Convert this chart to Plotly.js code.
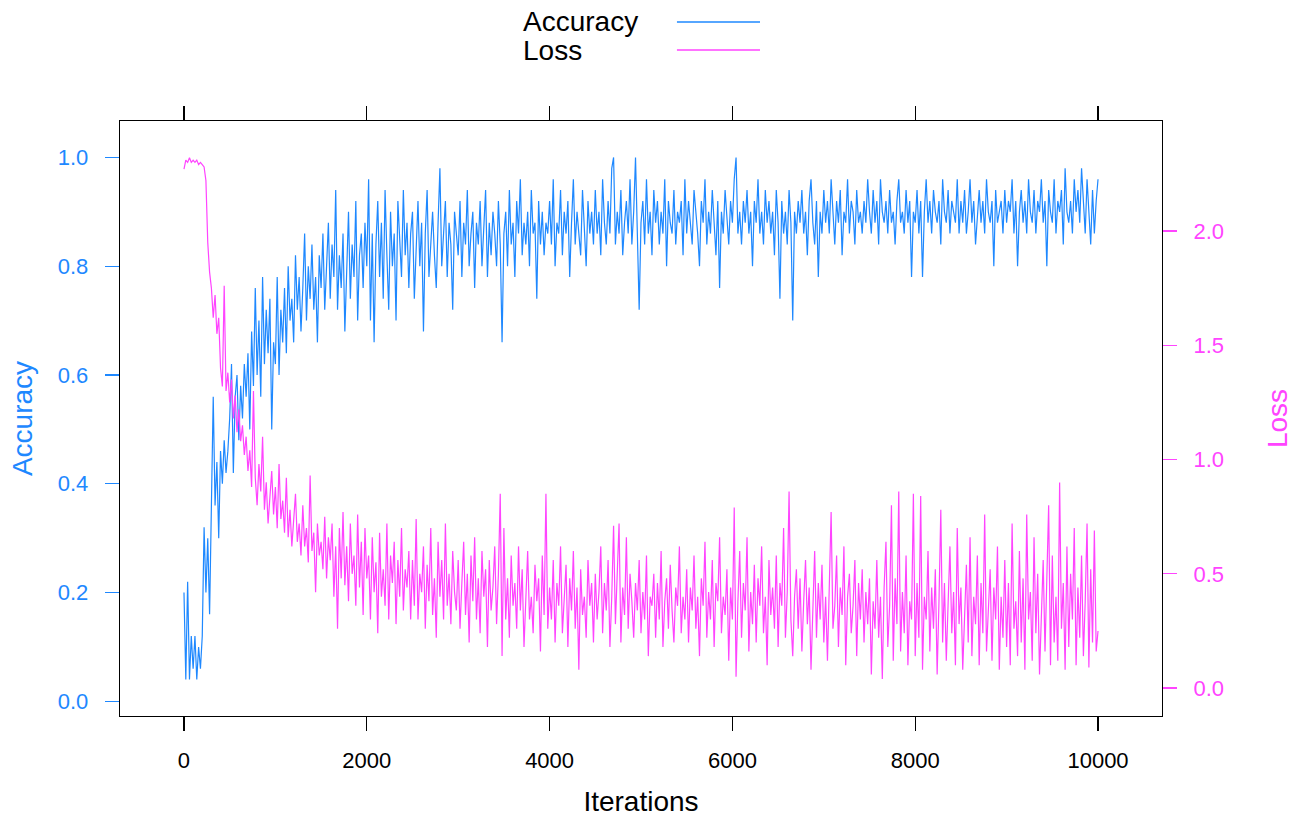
<!DOCTYPE html>
<html>
<head>
<meta charset="utf-8">
<script src="https://cdn.plot.ly/plotly-3.0.1.min.js"></script>
<style>html,body{margin:0;padding:0;background:#fff;}#chart{width:1308px;height:821px;}</style>
</head>
<body>
<div id="chart"></div>
<script>
const iterStep = 20;
const accuracy = [
0.20,0.04,0.22,0.04,0.12,0.06,0.12,0.04,0.10,0.06,0.12,0.32,0.20,0.30,0.16,0.34,0.56,0.36,0.44,0.30,0.46,0.40,0.48,0.42,0.46,
0.52,0.62,0.42,0.56,0.60,0.48,0.58,0.52,0.62,0.56,0.64,0.50,0.68,0.58,0.76,0.60,0.70,0.56,0.78,0.62,0.72,0.64,0.74,0.50,0.66,
0.62,0.78,0.60,0.72,0.66,0.76,0.64,0.80,0.70,0.74,0.66,0.82,0.72,0.78,0.68,0.76,0.86,0.70,0.80,0.74,0.84,0.72,0.78,0.66,0.82,
0.76,0.86,0.72,0.80,0.88,0.74,0.84,0.78,0.94,0.72,0.82,0.76,0.86,0.68,0.80,0.90,0.74,0.84,0.78,0.92,0.70,0.82,0.86,0.76,0.88,
0.80,0.96,0.70,0.86,0.66,0.84,0.92,0.78,0.88,0.74,0.94,0.82,0.72,0.90,0.80,0.86,0.70,0.92,0.84,0.78,0.94,0.82,0.88,0.76,0.86,
0.90,0.74,0.84,0.92,0.80,0.88,0.68,0.86,0.94,0.78,0.84,0.90,0.82,0.76,0.88,0.98,0.80,0.86,0.92,0.78,0.88,0.84,0.72,0.90,0.86,
0.82,0.92,0.78,0.88,0.84,0.94,0.80,0.86,0.90,0.76,0.88,0.84,0.92,0.80,0.86,0.94,0.78,0.88,0.82,0.90,0.86,0.80,0.92,0.84,0.66,
0.86,0.90,0.80,0.94,0.84,0.88,0.78,0.92,0.86,0.96,0.82,0.88,0.84,0.90,0.80,0.94,0.86,0.88,0.74,0.92,0.84,0.90,0.82,0.88,0.86,
0.92,0.84,0.96,0.80,0.88,0.86,0.94,0.82,0.90,0.86,0.92,0.78,0.88,0.96,0.84,0.90,0.86,0.82,0.94,0.88,0.80,0.92,0.86,0.90,0.84,
0.94,0.86,0.90,0.82,0.96,0.88,0.84,0.92,0.86,0.98,1.00,0.84,0.90,0.86,0.94,0.82,0.88,0.92,0.86,0.96,0.84,0.90,1.00,0.86,0.72,
0.88,0.92,0.84,0.96,0.86,0.90,0.82,0.94,0.88,0.92,0.84,0.90,0.86,0.96,0.80,0.92,0.88,0.86,0.94,0.84,0.90,0.88,0.92,0.82,0.96,
0.86,0.92,0.88,0.84,0.94,0.90,0.86,0.80,0.92,0.88,0.96,0.84,0.90,0.86,0.94,0.88,0.82,0.92,0.76,0.90,0.86,0.94,0.88,0.84,0.92,
0.88,0.96,1.00,0.86,0.90,0.84,0.92,0.88,0.94,0.86,0.90,0.80,0.92,0.88,0.96,0.86,0.90,0.84,0.94,0.88,0.92,0.86,0.90,0.82,0.94,
0.88,0.74,0.92,0.86,0.90,0.84,0.94,0.88,0.70,0.90,0.86,0.92,0.88,0.94,0.86,0.90,0.82,0.92,0.96,0.88,0.84,0.92,0.78,0.90,0.86,
0.94,0.88,0.92,0.86,0.96,0.90,0.84,0.92,0.88,0.94,0.82,0.90,0.88,0.96,0.86,0.92,0.90,0.84,0.94,0.88,0.90,0.86,0.92,0.88,0.96,
0.90,0.86,0.94,0.88,0.92,0.84,0.96,0.90,0.88,0.92,0.86,0.94,0.88,0.90,0.84,0.92,0.96,0.88,0.90,0.86,0.94,0.88,0.92,0.78,0.90,
0.88,0.94,0.86,0.92,0.78,0.90,0.96,0.88,0.92,0.86,0.94,0.90,0.88,0.92,0.84,0.96,0.90,0.88,0.94,0.86,0.92,0.90,0.88,0.96,0.86,
0.92,0.88,0.94,0.86,0.90,0.96,0.88,0.92,0.84,0.90,0.94,0.88,0.92,0.86,0.96,0.90,0.88,0.92,0.80,0.94,0.88,0.90,0.92,0.86,0.94,
0.88,0.92,0.90,0.96,0.86,0.92,0.80,0.90,0.94,0.88,0.92,0.86,0.96,0.90,0.88,0.94,0.86,0.92,0.90,0.96,0.88,0.92,0.80,0.94,0.90,
0.88,0.96,0.86,0.92,0.90,0.94,0.84,0.98,0.90,0.88,0.92,0.86,0.96,0.90,0.94,0.88,0.98,0.92,0.86,0.96,0.90,0.84,0.94,0.86,0.92,
0.96
];
const loss = [
2.27,2.31,2.30,2.32,2.30,2.31,2.30,2.31,2.29,2.30,2.29,2.28,2.22,1.95,1.82,1.75,1.62,1.72,1.55,1.62,1.40,1.32,1.76,1.30,1.38,
1.25,1.35,1.18,1.28,1.12,1.22,1.08,1.15,1.02,1.10,0.95,1.04,0.88,1.30,0.92,0.80,0.98,0.86,1.10,0.78,0.90,0.72,0.84,0.95,0.76,
0.88,0.70,0.98,0.74,0.82,0.68,0.92,0.66,0.78,0.62,0.74,0.85,0.64,0.72,0.58,0.80,0.62,0.70,0.55,0.93,0.60,0.68,0.42,0.72,0.58,
0.64,0.52,0.75,0.48,0.66,0.56,0.72,0.40,0.62,0.26,0.70,0.48,0.77,0.45,0.62,0.38,0.72,0.50,0.58,0.36,0.76,0.44,0.64,0.32,0.70,
0.48,0.58,0.30,0.66,0.42,0.55,0.24,0.68,0.40,0.52,0.36,0.72,0.30,0.58,0.46,0.64,0.28,0.56,0.40,0.70,0.34,0.52,0.44,0.60,0.30,
0.56,0.36,0.74,0.30,0.50,0.42,0.62,0.26,0.54,0.38,0.70,0.32,0.48,0.22,0.64,0.40,0.56,0.30,0.72,0.36,0.50,0.28,0.60,0.42,0.34,
0.56,0.26,0.46,0.64,0.32,0.50,0.20,0.58,0.38,0.66,0.30,0.48,0.24,0.60,0.40,0.52,0.18,0.56,0.34,0.44,0.62,0.28,0.50,0.85,0.14,
0.70,0.30,0.48,0.22,0.58,0.36,0.46,0.26,0.62,0.34,0.52,0.18,0.44,0.60,0.30,0.40,0.24,0.54,0.38,0.48,0.16,0.58,0.32,0.85,0.26,
0.44,0.30,0.56,0.20,0.46,0.36,0.62,0.24,0.42,0.54,0.18,0.48,0.34,0.60,0.26,0.44,0.08,0.52,0.32,0.40,0.22,0.56,0.36,0.46,0.20,
0.50,0.30,0.42,0.62,0.24,0.46,0.34,0.56,0.18,0.40,0.71,0.28,0.48,0.72,0.20,0.44,0.32,0.66,0.26,0.50,0.38,0.22,0.46,0.34,0.56,
0.24,0.42,0.30,0.58,0.14,0.40,0.36,0.50,0.22,0.46,0.30,0.60,0.18,0.38,0.48,0.26,0.54,0.34,0.20,0.44,0.36,0.62,0.24,0.40,0.30,
0.52,0.20,0.44,0.34,0.58,0.26,0.40,0.14,0.48,0.36,0.64,0.22,0.42,0.30,0.56,0.18,0.46,0.38,0.66,0.24,0.40,0.32,0.52,0.12,0.44,
0.30,0.79,0.05,0.38,0.60,0.22,0.46,0.34,0.66,0.16,0.42,0.28,0.54,0.20,0.48,0.36,0.62,0.24,0.40,0.10,0.56,0.32,0.44,0.26,0.58,
0.18,0.46,0.36,0.70,0.22,0.42,0.86,0.30,0.14,0.40,0.52,0.26,0.48,0.16,0.38,0.56,0.28,0.44,0.08,0.34,0.60,0.22,0.46,0.30,0.54,
0.20,0.40,0.12,0.48,0.77,0.26,0.36,0.58,0.18,0.44,0.32,0.62,0.10,0.40,0.50,0.24,0.36,0.56,0.14,0.46,0.30,0.52,0.20,0.42,0.28,
0.48,0.06,0.38,0.26,0.56,0.22,0.40,0.04,0.44,0.64,0.18,0.36,0.80,0.12,0.48,0.28,0.86,0.16,0.42,0.24,0.58,0.10,0.38,0.30,0.85,
0.14,0.46,0.22,0.84,0.08,0.40,0.30,0.60,0.16,0.44,0.26,0.52,0.06,0.38,0.78,0.20,0.46,0.12,0.34,0.62,0.24,0.42,0.10,0.70,0.28,
0.44,0.08,0.36,0.54,0.20,0.66,0.14,0.40,0.28,0.58,0.10,0.46,0.24,0.76,0.16,0.36,0.52,0.12,0.44,0.30,0.62,0.08,0.40,0.22,0.56,
0.18,0.46,0.10,0.72,0.26,0.38,0.14,0.60,0.20,0.48,0.08,0.76,0.30,0.42,0.12,0.66,0.24,0.50,0.06,0.36,0.56,0.16,0.44,0.80,0.10,
0.58,0.20,0.40,0.12,0.90,0.26,0.46,0.08,0.62,0.18,0.50,0.30,0.70,0.10,0.44,0.22,0.58,0.14,0.38,0.72,0.09,0.52,0.20,0.69,0.16,
0.25
];
const xTicks = [0, 2000, 4000, 6000, 8000, 10000];
const accTicks = [0.0, 0.2, 0.4, 0.6, 0.8, 1.0];
const lossTicks = [0.0, 0.5, 1.0, 1.5, 2.0];
const seriesNames = ['Accuracy', 'Loss'];

const itersAcc = accuracy.map((_, i) => i * iterStep);
const itersLoss = loss.map((_, i) => i * iterStep);

const BLUE = '#1E88FF';
const PINK = '#FF44FF';
const FONT = 'Liberation Sans, Arial, sans-serif';

const traces = [
  {x: itersAcc, y: accuracy, type: 'scatter', mode: 'lines', name: seriesNames[0],
   line: {color: BLUE, width: 1.2}, yaxis: 'y', showlegend: false},
  {x: itersLoss, y: loss, type: 'scatter', mode: 'lines', name: seriesNames[1],
   line: {color: PINK, width: 1.2}, yaxis: 'y2', showlegend: false}
];

const layout = {
  width: 1308, height: 821,
  margin: {l: 120, r: 146, t: 121, b: 105},
  paper_bgcolor: '#fff', plot_bgcolor: '#fff',
  font: {family: FONT, size: 22, color: '#000'},
  showlegend: false,
  xaxis: {
    range: [-700, 10700], tickvals: xTicks, ticktext: xTicks.map(String),
    showgrid: false, zeroline: false,
    showline: true, linecolor: '#000', linewidth: 1.3, mirror: 'ticks',
    ticks: 'outside', ticklen: 14, tickwidth: 1.3, tickcolor: '#000',
    ticklabelstandoff: 10,
    tickfont: {family: FONT, size: 22, color: '#000'},
    title: {text: 'Iterations', font: {family: FONT, size: 28, color: '#000'}, standoff: 19}
  },
  yaxis: {
    range: [-0.027, 1.067], tickvals: accTicks, ticktext: accTicks.map(v => v.toFixed(1)),
    showgrid: false, zeroline: false,
    showline: true, linecolor: '#000', linewidth: 1.3, mirror: true,
    ticks: 'outside', ticklen: 14, tickwidth: 1.3, tickcolor: BLUE,
    ticklabelstandoff: 12,
    tickfont: {family: FONT, size: 22, color: BLUE},
    title: {text: 'Accuracy', font: {family: FONT, size: 28, color: BLUE}, standoff: 17}
  },
  yaxis2: {
    overlaying: 'y', side: 'right', anchor: 'x',
    range: [-0.122, 2.481], tickvals: lossTicks, ticktext: lossTicks.map(v => v.toFixed(1)),
    showgrid: false, zeroline: false, showline: false,
    ticks: 'outside', ticklen: 14, tickwidth: 1.3, tickcolor: PINK,
    ticklabelstandoff: 12,
    tickfont: {family: FONT, size: 22, color: PINK},
    title: {text: 'Loss', font: {family: FONT, size: 28, color: PINK}, standoff: 44}
  },
  annotations: [
    {xref: 'paper', yref: 'paper', x: 0.3845, y: 1.1664, xanchor: 'left', yanchor: 'middle',
     text: seriesNames[0], showarrow: false, font: {family: FONT, size: 28, color: '#000'}},
    {xref: 'paper', yref: 'paper', x: 0.3845, y: 1.1193, xanchor: 'left', yanchor: 'middle',
     text: seriesNames[1], showarrow: false, font: {family: FONT, size: 28, color: '#000'}}
  ],
  shapes: [
    {type: 'line', xref: 'paper', yref: 'paper', x0: 0.5345, x1: 0.6142, y0: 1.1664, y1: 1.1664,
     line: {color: BLUE, width: 1.5}},
    {type: 'line', xref: 'paper', yref: 'paper', x0: 0.5345, x1: 0.6142, y0: 1.1193, y1: 1.1193,
     line: {color: PINK, width: 1.5}}
  ]
};

Plotly.newPlot('chart', traces, layout, {displayModeBar: false, staticPlot: true});
</script>
</body>
</html>
